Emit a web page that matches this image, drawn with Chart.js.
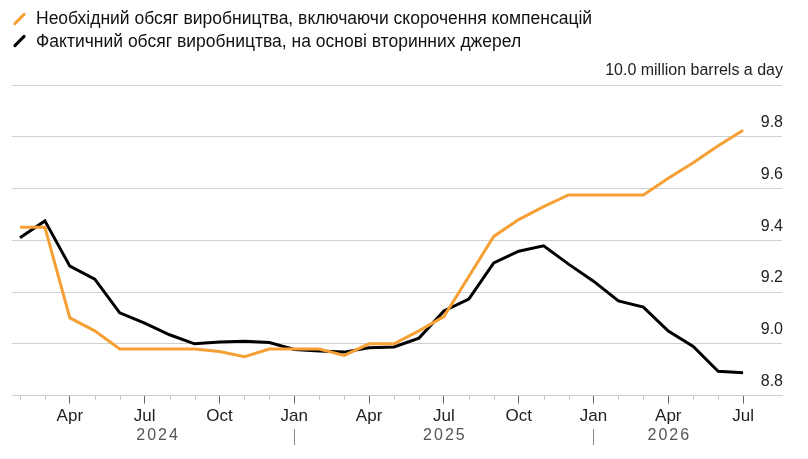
<!DOCTYPE html>
<html>
<head>
<meta charset="utf-8">
<script src="https://cdn.jsdelivr.net/npm/chart.js@4.4.1/dist/chart.umd.min.js"></script>
<style>
  html, body { margin: 0; padding: 0; background: #fff; }
  #wrap { position: relative; width: 808px; height: 459px; overflow: hidden; }
  #chart { position: absolute; left: 0; top: 0; }
  .leg { position: absolute; left: 36px; font: 17.5px "Liberation Sans", Arial, sans-serif; color: #111; line-height: 22px; white-space: nowrap; }
  .sw { position: absolute; left: 17.5px; width: 3px; height: 16px; border-radius: 1.5px; transform: rotate(45deg); }
</style>
</head>
<body>
<div id="wrap">
  <canvas id="chart" width="808" height="459"></canvas>
  <div class="sw" style="top:11px;background:#f5a035"></div>
  <div class="leg" style="top:7px">Необхідний обсяг виробництва, включаючи скорочення компенсацій</div>
  <div class="sw" style="top:33px;background:#000"></div>
  <div class="leg" style="top:29.5px">Фактичний обсяг виробництва, на основі вторинних джерел</div>
</div>
<script>
// monthly points, Feb 2024 .. Jul 2026
var months = [
  'Feb 2024', 'Mar 2024', 'Apr 2024', 'May 2024', 'Jun 2024', 'Jul 2024',
  'Aug 2024', 'Sep 2024', 'Oct 2024', 'Nov 2024', 'Dec 2024',
  'Jan 2025', 'Feb 2025', 'Mar 2025', 'Apr 2025', 'May 2025', 'Jun 2025',
  'Jul 2025', 'Aug 2025', 'Sep 2025', 'Oct 2025', 'Nov 2025', 'Dec 2025',
  'Jan 2026', 'Feb 2026', 'Mar 2026', 'Apr 2026', 'May 2026', 'Jun 2026', 'Jul 2026'
];

// required output incl. compensation cuts (orange)
var required = [
  9.45, 9.45, 9.10, 9.05, 8.98, 8.98, 8.98, 8.98, 8.97, 8.95, 8.98,
  8.98, 8.98, 8.955, 9.00, 9.00, 9.05, 9.105, 9.26, 9.415, 9.48, 9.53, 9.575,
  9.575, 9.575, 9.575, 9.64, 9.70, 9.765, 9.825
];

// actual output, secondary sources (black)
var actual = [
  9.41, 9.475, 9.30, 9.25, 9.12, 9.08, 9.035, 9.00, 9.007, 9.01, 9.005,
  8.978, 8.972, 8.968, 8.985, 8.988, 9.022, 9.127, 9.173, 9.313, 9.358, 9.379, 9.308,
  9.242, 9.166, 9.142, 9.049, 8.99, 8.894, 8.888
];

var tickMonthNames = ['Jan', 'Apr', 'Jul', 'Oct'];
var yearLabels = ['2024', '2025', '2026'];
var yTicks = [8.8, 9.0, 9.2, 9.4, 9.6, 9.8, 10.0];
var unitLabel = 'million barrels a day';

var FONT = '"Liberation Sans", Arial, sans-serif';

function toPoints(arr) {
  return arr.map(function (v, i) { return { x: i, y: v }; });
}

var majorIdx = [];
months.forEach(function (m, i) {
  if (tickMonthNames.indexOf(m.split(' ')[0]) >= 0) majorIdx.push(i);
});

var extras = {
  id: 'extras',
  afterDraw: function (chart) {
    var ctx = chart.ctx;
    var x = chart.scales.x;
    var y0 = chart.chartArea.bottom;
    ctx.save();
    // minor month ticks
    ctx.strokeStyle = '#c4c4c4';
    ctx.lineWidth = 1;
    months.forEach(function (m, i) {
      if (majorIdx.indexOf(i) >= 0) return;
      var px = Math.round(x.getPixelForValue(i)) + 0.5;
      ctx.beginPath();
      ctx.moveTo(px, y0);
      ctx.lineTo(px, y0 + 4);
      ctx.stroke();
    });
    // year labels, centred on each year's span
    ctx.font = '16px ' + FONT;
    ctx.fillStyle = '#555';
    ctx.textAlign = 'center';
    ctx.textBaseline = 'middle';
    try { ctx.letterSpacing = '2px'; } catch (e) {}
    yearLabels.forEach(function (yr, k) {
      var idx = [];
      months.forEach(function (m, i) { if (m.split(' ')[1] === yr) idx.push(i); });
      var first = idx[0];
      var end = k < yearLabels.length - 1 ? idx[idx.length - 1] + 1 : idx[idx.length - 1];
      ctx.fillText(yr, x.getPixelForValue((first + end) / 2) + 1, 436);
      // separator under January
      if (months[first].indexOf('Jan') === 0) {
        var sx = Math.round(x.getPixelForValue(first)) + 0.5;
        ctx.strokeStyle = '#888';
        ctx.beginPath();
        ctx.moveTo(sx, 429);
        ctx.lineTo(sx, 445);
        ctx.stroke();
      }
    });
    ctx.restore();
  }
};

new Chart(document.getElementById('chart').getContext('2d'), {
  type: 'line',
  data: {
    datasets: [
      {
        label: 'Необхідний обсяг виробництва, включаючи скорочення компенсацій',
        data: toPoints(required),
        borderColor: '#f5a035',
        borderWidth: 3,
        pointRadius: 0,
        tension: 0
      },
      {
        label: 'Фактичний обсяг виробництва, на основі вторинних джерел',
        data: toPoints(actual),
        borderColor: '#000',
        borderWidth: 3,
        pointRadius: 0,
        tension: 0
      }
    ]
  },
  options: {
    responsive: false,
    animation: false,
    layout: { padding: { top: 85, left: 12, right: 24, bottom: 29 } },
    plugins: { legend: { display: false }, tooltip: { enabled: false } },
    scales: {
      x: {
        type: 'linear',
        min: -0.32,
        max: months.length - 1 + 1.56,
        border: { display: true, color: '#cfcfcf', width: 1 },
        grid: { drawOnChartArea: false, tickLength: 8, tickColor: '#666', tickWidth: 1 },
        afterBuildTicks: function (scale) {
          scale.ticks = majorIdx.map(function (i) { return { value: i }; });
        },
        ticks: {
          autoSkip: false,
          maxRotation: 0,
          padding: 3,
          color: '#222',
          font: { family: FONT, size: 17 },
          callback: function (v) { return months[v] ? months[v].split(' ')[0] : ''; }
        }
      },
      y: {
        position: 'right',
        min: yTicks[0],
        max: yTicks[yTicks.length - 1],
        border: { display: false },
        grid: { color: '#d0d0d0', lineWidth: 1, drawTicks: false },
        afterBuildTicks: function (scale) {
          scale.ticks = yTicks.map(function (v) { return { value: v }; });
        },
        ticks: {
          mirror: true,
          padding: 1,
          labelOffset: -14,
          color: '#222',
          font: { family: FONT, size: 16 },
          callback: function (v) {
            var s = Number(v).toFixed(1);
            return Math.abs(v - yTicks[yTicks.length - 1]) < 1e-6 ? s + ' ' + unitLabel : s;
          }
        }
      }
    }
  },
  plugins: [extras]
});
</script>
</body>
</html>
